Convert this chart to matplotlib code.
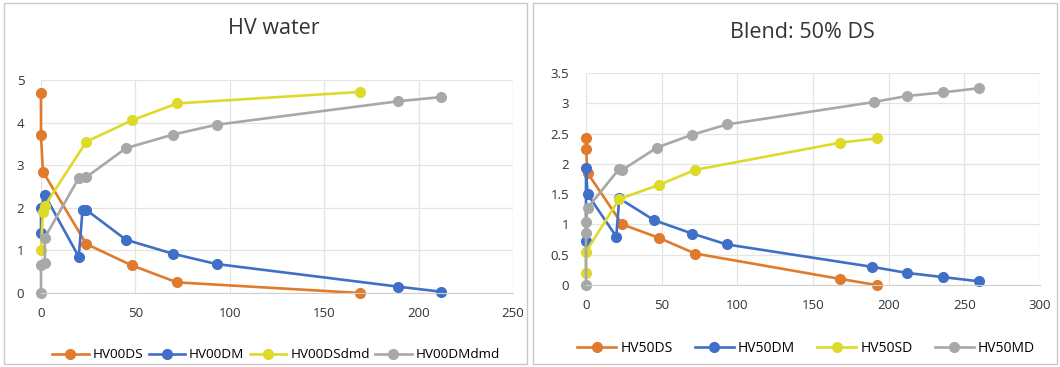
import matplotlib
matplotlib.use("Agg")
import matplotlib.pyplot as plt
from matplotlib.patches import Rectangle

plt.rcParams['font.family'] = ['Open Sans', 'DejaVu Sans']

# ---- left panel: HV water ----
hv00ds_x = [0, 0, 1, 24, 48, 72, 169]
hv00ds_y = [4.7, 3.7, 2.85, 1.15, 0.65, 0.25, 0.0]
hv00dm_x = [0, 0, 2, 20, 22, 24, 45, 70, 93, 189, 212]
hv00dm_y = [1.4, 2.0, 2.3, 0.85, 1.95, 1.95, 1.25, 0.92, 0.68, 0.15, 0.03]
hv00dsdmd_x = [0, 1, 2, 24, 48, 72, 169]
hv00dsdmd_y = [1.0, 1.9, 2.05, 3.55, 4.05, 4.45, 4.72]
hv00dmdmd_x = [0, 0, 2, 2, 20, 24, 45, 70, 93, 189, 212]
hv00dmdmd_y = [0.0, 0.65, 0.7, 1.3, 2.7, 2.72, 3.4, 3.72, 3.95, 4.5, 4.6]

# ---- right panel: Blend 50% DS ----
hv50ds_x = [0, 0, 1, 24, 48, 72, 168, 192]
hv50ds_y = [2.43, 2.25, 1.85, 1.0, 0.78, 0.52, 0.1, 0.0]
hv50dm_x = [0, 0, 1, 20, 22, 45, 70, 93, 189, 212, 236, 260]
hv50dm_y = [0.72, 1.93, 1.5, 0.8, 1.43, 1.07, 0.85, 0.67, 0.3, 0.2, 0.13, 0.06]
hv50sd_x = [0, 0, 22, 48, 72, 168, 192]
hv50sd_y = [0.2, 0.55, 1.42, 1.65, 1.9, 2.35, 2.42]
hv50md_x = [0, 0, 0, 1, 22, 24, 47, 70, 93, 190, 212, 236, 260]
hv50md_y = [0.0, 0.86, 1.04, 1.27, 1.92, 1.9, 2.27, 2.48, 2.65, 3.02, 3.12, 3.18, 3.25]

orange = '#E07B2E'
blue = '#3F6FC6'
yellow = '#DEDA2A'
gray = '#A8A8A8'

W, H = 1060, 367
fig = plt.figure(figsize=(W / 100, H / 100), dpi=100)

def px_axes(x0, y0, x1, y1):
    return fig.add_axes([x0 / W, 1 - y1 / H, (x1 - x0) / W, (y1 - y0) / H])

# chart frames
for bx0, bx1 in [(4, 527), (533, 1057)]:
    fig.patches.append(Rectangle((bx0 / W, 3 / H), (bx1 - bx0) / W, (H - 6) / H,
                                 transform=fig.transFigure, fill=False,
                                 edgecolor='#c8c8c8', lw=1.0))

def style(ax, xmax, ymax, ystep):
    ax.set_xlim(0, xmax)
    ax.set_ylim(0, ymax)
    for s in ax.spines.values():
        s.set_visible(False)
    ax.spines['bottom'].set_visible(True)
    ax.spines['bottom'].set_color('#d0d0d0')
    ax.grid(True, color='#e4e4e4', lw=0.9)
    ax.set_axisbelow(True)
    ax.tick_params(length=0, labelsize=9.5, colors='#333333')
    ax.tick_params(axis='x', pad=10)
    ax.tick_params(axis='y', pad=12)
    ax.set_xticks(range(0, xmax + 1, 50))
    yt = [i * ystep for i in range(int(round(ymax / ystep)) + 1)]
    ax.set_yticks(yt)
    ax.set_yticklabels([('%g' % v) for v in yt])

def series(ax, x, y, c, label):
    ax.plot(x, y, color=c, lw=1.9, marker='o', ms=7, label=label, clip_on=False)

ax1 = px_axes(41, 80, 513, 293)
style(ax1, 250, 5, 1)
series(ax1, hv00ds_x, hv00ds_y, orange, 'HV00DS')
series(ax1, hv00dm_x, hv00dm_y, blue, 'HV00DM')
series(ax1, hv00dsdmd_x, hv00dsdmd_y, yellow, 'HV00DSdmd')
series(ax1, hv00dmdmd_x, hv00dmdmd_y, gray, 'HV00DMdmd')
fig.text(274 / W, 1 - 28 / H, 'HV water', ha='center', va='center', fontsize=15.5, color='#333333')
fig.legend(handles=ax1.get_lines(), loc='center', bbox_to_anchor=(276 / W, 1 - 355 / H),
           ncol=4, frameon=False, fontsize=9.7, handlelength=2.7,
           columnspacing=0.4, handletextpad=0.3)

ax2 = px_axes(586, 73, 1040, 285)
style(ax2, 300, 3.5, 0.5)
series(ax2, hv50ds_x, hv50ds_y, orange, 'HV50DS')
series(ax2, hv50dm_x, hv50dm_y, blue, 'HV50DM')
series(ax2, hv50sd_x, hv50sd_y, yellow, 'HV50SD')
series(ax2, hv50md_x, hv50md_y, gray, 'HV50MD')
fig.text(802 / W, 1 - 32 / H, 'Blend: 50% DS', ha='center', va='center', fontsize=15.5, color='#333333')
fig.legend(handles=ax2.get_lines(), loc='center', bbox_to_anchor=(806 / W, 1 - 348 / H),
           ncol=4, frameon=False, fontsize=10, handlelength=2.8,
           columnspacing=1.6, handletextpad=0.3)

fig.savefig('out.png', dpi=100)
